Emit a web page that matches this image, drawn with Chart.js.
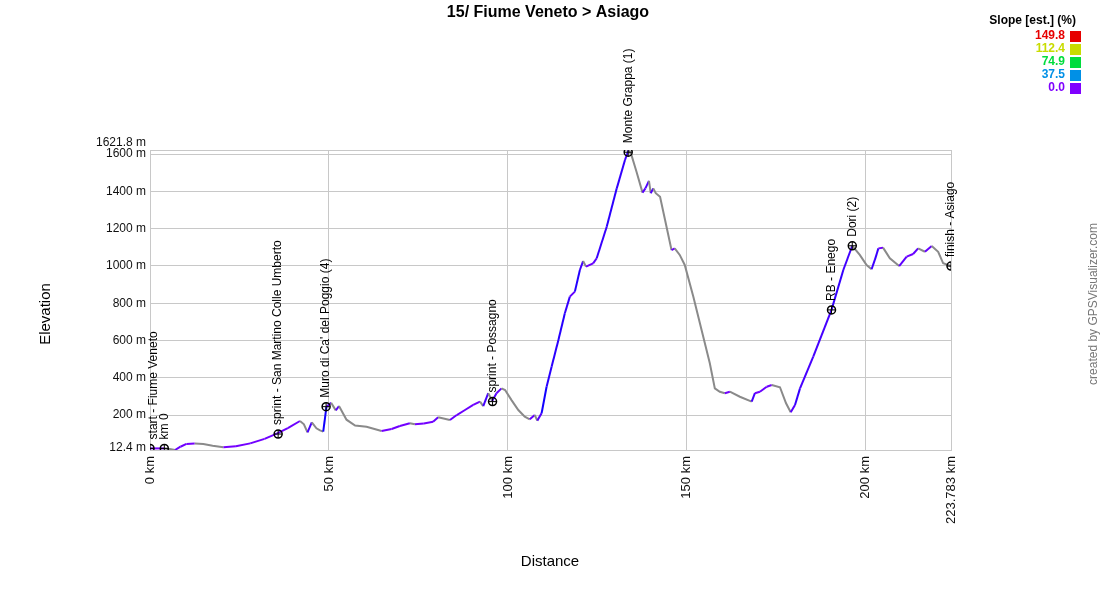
<!DOCTYPE html>
<html>
<head>
<meta charset="utf-8">
<script src="https://cdn.jsdelivr.net/npm/chart.js@4.4.1/dist/chart.umd.min.js"></script>
<style>
  html, body { margin: 0; padding: 0; background: #fff; }
  #wrap { width: 1100px; height: 600px; }
</style>
</head>
<body>
<div id="wrap"><canvas id="c" width="1100" height="600"></canvas></div>
<script>
// ---- data ----
const chartTitle = "15/ Fiume Veneto > Asiago";
const distKm = [0, 2, 4, 5.5, 7, 8.5, 10.2, 12.5, 14.9, 17.5, 20.5, 24, 28, 32, 35.4, 38.5, 41.9, 43, 44, 45.2, 46.5, 47.5, 48.4, 49.3, 50.6, 51.9, 52.8, 54.9, 57.3, 60.5, 64.7, 67.5, 69.8, 72.6, 74, 76.5, 79.1, 80.5, 83.8, 85.7, 88, 90.3, 92.2, 93.1, 94.5, 95.6, 96.8, 98.2, 99.2, 101, 102.9, 104.7, 106.1, 107.5, 108.2, 109.4, 110.8, 112.2, 114.1, 115.9, 117.3, 118.7, 120.1, 121, 121.8, 123.8, 124.8, 127.6, 130.4, 132.7, 133.7, 134.5, 135.9, 137.6, 138.4, 139.4, 139.9, 140.6, 141.3, 142.5, 143.9, 145.7, 146.6, 148, 149.4, 151.8, 154.1, 156.4, 157.8, 159.2, 160.6, 162, 164.8, 168.1, 169, 170.4, 172.3, 173.7, 176, 177.7, 179, 180.2, 181.6, 185.3, 190.4, 193.7, 196.2, 198.3, 200.2, 201.6, 202.5, 203.5, 204.8, 206.7, 209.3, 211.4, 213.2, 214.6, 216.5, 218.4, 220.2, 221.6, 223.783];
const elevM = [21, 21, 21, 18, 12.4, 30, 45, 47, 45, 35, 27, 32, 48, 72, 100, 130, 168, 150, 107, 161, 129, 118, 111, 245, 266, 225, 248, 175, 144, 137, 114, 125, 141, 156, 150, 155, 164, 188, 173, 200, 227, 254, 272, 248, 317, 275, 317, 343, 334, 280, 227, 191, 177, 200, 170, 209, 352, 459, 603, 746, 835, 862, 978, 1026, 996, 1014, 1041, 1210, 1416, 1568, 1621.8, 1595, 1506, 1393, 1416, 1456, 1390, 1416, 1390, 1371, 1246, 1085, 1094, 1059, 1005, 835, 656, 478, 343, 325, 317, 325, 298, 272, 317, 325, 352, 361, 349, 263, 215, 254, 343, 513, 764, 978, 1108, 1059, 1005, 982, 1032, 1094, 1098, 1041, 999, 1050, 1064, 1094, 1076, 1107, 1076, 1014, 999];

const wpKm = [0, 4.0, 35.8, 49.2, 95.7, 133.6, 190.4, 196.2, 223.783];
const wpElev = [21, 21, 98, 245, 272, 1610, 764, 1108, 999];
const wpNames = ["start - Fiume Veneto", "km 0", "sprint - San Martino Colle Umberto", "Muro di Ca' del Poggio (4)", "sprint - Possagno", "Monte Grappa (1)", "RB - Enego", "Dori (2)", "finish - Asiago"];

const xTickValues = [0, 50, 100, 150, 200, 223.783];
const xTickLabels = ["0 km", "50 km", "100 km", "150 km", "200 km", "223.783 km"];
const yTickValues = [12.4, 200, 400, 600, 800, 1000, 1200, 1400, 1600, 1621.8];
const yTickLabels = ["12.4 m", "200 m", "400 m", "600 m", "800 m", "1000 m", "1200 m", "1400 m", "1600 m", "1621.8 m"];

const legendTitle = "Slope [est.] (%)";
const legendValues = ["149.8", "112.4", "74.9", "37.5", "0.0"];
const legendColors = ["#e60000", "#c8dc00", "#00dc3c", "#0090e6", "#7f00ff"];

const xTitle = "Distance";
const yTitle = "Elevation";
const creditText = "created by GPSVisualizer.com";

// ---- build ----
const profile = distKm.map((d, i) => ({ x: d, y: elevM[i] }));
const waypoints = wpKm.map((d, i) => ({ x: d, y: wpElev[i] }));

function slopeColor(p0, p1) {
  const dx = (p1.x - p0.x) * 1000;
  const s = dx > 0 ? (p1.y - p0.y) / dx * 100 : 0;
  if (s < 0) return '#8a8a8a';
  const t = Math.min(s / 10, 1);
  const hue = 268 - t * 24;
  return 'hsl(' + hue + ',100%,50%)';
}

const FONT = '"Liberation Sans", Arial, sans-serif';

const textPlugin = {
  id: 'textPlugin',
  beforeDraw(chart) {
    const ctx = chart.ctx;
    ctx.save();
    ctx.fillStyle = '#fff';
    ctx.fillRect(0, 0, chart.width, chart.height);
    ctx.restore();
  },
  afterDraw(chart) {
    const ctx = chart.ctx;
    const xs = chart.scales.x, ys = chart.scales.y;
    const area = chart.chartArea;
    ctx.save();
    // title
    ctx.fillStyle = '#000';
    ctx.font = 'bold 16px ' + FONT;
    ctx.textAlign = 'center';
    ctx.textBaseline = 'middle';
    ctx.fillText(chartTitle, 548, 13);

    // y tick labels
    ctx.font = '12px ' + FONT;
    ctx.textAlign = 'right';
    ctx.fillStyle = '#111';
    yTickValues.forEach((v, i) => {
      let y = ys.getPixelForValue(v);
      if (i === yTickValues.length - 1) y -= 7;
      else if (i === 0) y -= 2;
      ctx.fillText(yTickLabels[i], area.left - 4, y);
    });

    // x tick labels (rotated)
    ctx.font = '13px ' + FONT;
    xTickValues.forEach((v, i) => {
      const x = xs.getPixelForValue(v);
      ctx.save();
      ctx.translate(x, area.bottom + 6);
      ctx.rotate(-Math.PI / 2);
      ctx.textAlign = 'right';
      ctx.textBaseline = 'middle';
      ctx.fillText(xTickLabels[i], 0, 0);
      ctx.restore();
    });

    // axis titles
    ctx.font = '15px ' + FONT;
    ctx.fillStyle = '#000';
    ctx.textAlign = 'center';
    ctx.textBaseline = 'middle';
    ctx.fillText(xTitle, 550, 562);
    ctx.save();
    ctx.translate(46, 314);
    ctx.rotate(-Math.PI / 2);
    ctx.fillText(yTitle, 0, 0);
    ctx.restore();

    // waypoint labels
    ctx.font = '12px ' + FONT;
    ctx.fillStyle = '#000';
    wpKm.forEach((d, i) => {
      let x = xs.getPixelForValue(d);
      const y = ys.getPixelForValue(wpElev[i]);
      if (x < area.left + 3) x += 4;
      ctx.save();
      ctx.translate(x, y - 9);
      ctx.rotate(-Math.PI / 2);
      ctx.textAlign = 'left';
      ctx.textBaseline = 'middle';
      ctx.fillText(wpNames[i], 0, 0);
      ctx.restore();
    });

    // legend
    ctx.font = 'bold 12px ' + FONT;
    ctx.textAlign = 'right';
    ctx.textBaseline = 'middle';
    ctx.fillStyle = '#000';
    ctx.fillText(legendTitle, 1076, 21);
    legendValues.forEach((v, i) => {
      const y = 36 + i * 13;
      ctx.fillStyle = legendColors[i];
      ctx.fillText(v, 1065, y);
      ctx.fillRect(1070, y - 5, 11, 11);
    });

    // credit
    ctx.font = '12px ' + FONT;
    ctx.fillStyle = '#777';
    ctx.textAlign = 'center';
    ctx.save();
    ctx.translate(1094, 304);
    ctx.rotate(-Math.PI / 2);
    ctx.fillText(creditText, 0, 0);
    ctx.restore();
    ctx.restore();
  }
};

new Chart(document.getElementById('c'), {
  type: 'line',
  data: {
    datasets: [
      {
        data: waypoints, showLine: false, pointStyle: 'circle', pointRadius: 4,
        pointBorderColor: '#000', pointBackgroundColor: 'rgba(0,0,0,0)', pointBorderWidth: 1.5
      },
      {
        data: waypoints, showLine: false, pointStyle: 'cross', pointRadius: 4,
        pointBorderColor: '#000', pointBorderWidth: 1
      },
      {
        data: profile, borderWidth: 2, pointRadius: 0, tension: 0,
        borderColor: '#3c10f0',
        segment: { borderColor: c => slopeColor(c.p0.parsed, c.p1.parsed) }
      }
    ]
  },
  options: {
    responsive: false,
    animation: false,
    events: [],
    layout: { padding: { left: 150, right: 149, top: 150, bottom: 150 } },
    plugins: { legend: { display: false }, tooltip: { enabled: false }, title: { display: false } },
    scales: {
      x: {
        type: 'linear', min: 0, max: 223.783,
        afterBuildTicks: s => { s.ticks = xTickValues.map(v => ({ value: v })); },
        afterFit: s => { s.height = 0; },
        ticks: { display: false },
        grid: { color: '#c8c8c8', lineWidth: 1, drawTicks: false },
        border: { display: true, color: '#c8c8c8' }
      },
      y: {
        type: 'linear', min: 12.4, max: 1621.8,
        afterBuildTicks: s => { s.ticks = yTickValues.map(v => ({ value: v })); },
        afterFit: s => { s.width = 0; },
        ticks: { display: false },
        grid: { color: '#c8c8c8', lineWidth: 1, drawTicks: false },
        border: { display: true, color: '#c8c8c8' }
      }
    }
  },
  plugins: [textPlugin]
});
</script>
</body>
</html>
